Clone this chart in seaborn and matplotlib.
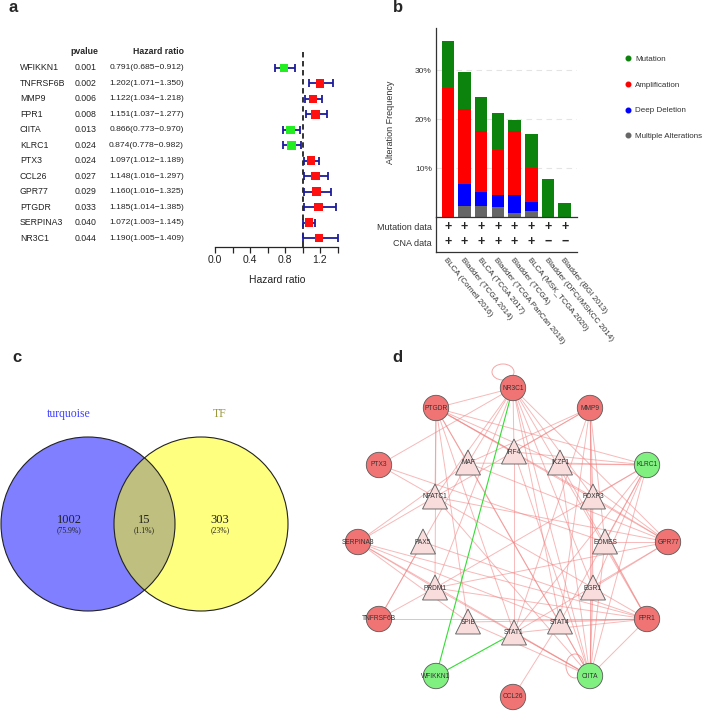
import numpy as np
import matplotlib
matplotlib.use("Agg")
import matplotlib.pyplot as plt
from matplotlib.patches import Circle, Polygon, Ellipse
from matplotlib.lines import Line2D
import pandas as pd
import seaborn as sns

# ---- panel a: univariate cox table ----
genes = ["WFIKKN1", "TNFRSF6B", "MMP9", "FPR1", "CIITA", "KLRC1", "PTX3",
         "CCL26", "GPR77", "PTGDR", "SERPINA3", "NR3C1"]
pvals = ["0.001", "0.002", "0.006", "0.008", "0.013", "0.024", "0.024",
         "0.027", "0.029", "0.033", "0.040", "0.044"]
hr = [0.791, 1.202, 1.122, 1.151, 0.866, 0.874, 1.097, 1.148, 1.160, 1.185, 1.072, 1.190]
hr_lo = [0.685, 1.071, 1.034, 1.037, 0.773, 0.778, 1.012, 1.016, 1.016, 1.014, 1.003, 1.005]
hr_hi = [0.912, 1.350, 1.218, 1.277, 0.970, 0.982, 1.189, 1.297, 1.325, 1.385, 1.145, 1.409]

# ---- panel b: cBioPortal alteration frequency (%) ----
studies = ["BLCA (Cornell 2016)", "Bladder (TCGA 2014)", "BLCA (TCGA 2017)",
           "Bladder (TCGA PanCan 2018)", "Bladder (TCGA)", "BLCA (MSK_TCGA 2020)",
           "Bladder (DFCI/MSKCC 2014)", "Bladder (BGI 2013)"]
mutation = [9.7, 7.7, 7.0, 7.5, 2.2, 6.8, 7.8, 2.9]
amplification = [26.3, 15.3, 12.4, 9.2, 13.1, 7.0, 0, 0]
deep_deletion = [0, 4.5, 2.9, 2.5, 3.6, 1.9, 0, 0]
multiple = [0, 2.2, 2.3, 2.0, 0.9, 1.2, 0, 0]
has_mut = [True] * 8
has_cna = [True] * 6 + [False] * 2

# ---- panel c: venn counts ----
venn_sets = ["turquoise", "TF"]
venn_counts = [1002, 15, 303]  # only left, both, only right

# ---- panel d: TF - gene network ----
red_genes = ["NR3C1", "PTGDR", "MMP9", "PTX3", "SERPINA3", "GPR77",
             "TNFRSF6B", "FPR1", "CCL26"]
green_genes = ["KLRC1", "WFIKKN1", "CIITA"]
tfs = ["IRF4", "MAF", "IKZF1", "NFATC1", "FOXP3", "PAX5", "EOMES",
       "PRDM1", "EGR1", "SPIB", "STAT4", "STAT1"]
pink_edges = [
    ("NR3C1", "PTGDR"), ("NR3C1", "PTX3"), ("NR3C1", "MAF"), ("NR3C1", "IRF4"),
    ("NR3C1", "NFATC1"), ("NR3C1", "PRDM1"), ("NR3C1", "STAT4"), ("NR3C1", "FPR1"),
    ("NR3C1", "CIITA"), ("NR3C1", "FOXP3"), ("NR3C1", "GPR77"), ("NR3C1", "EGR1"),
    ("PTGDR", "NFATC1"), ("PTGDR", "PRDM1"), ("PTGDR", "MAF"), ("PTGDR", "IRF4"),
    ("PTGDR", "IKZF1"), ("PTGDR", "KLRC1"), ("PTGDR", "FOXP3"), ("PTGDR", "GPR77"),
    ("PTGDR", "SPIB"), ("PTGDR", "STAT1"), ("PTGDR", "CIITA"),
    ("MMP9", "MAF"), ("MMP9", "IRF4"), ("MMP9", "NFATC1"), ("MMP9", "FOXP3"),
    ("MMP9", "EGR1"), ("MMP9", "STAT4"), ("MMP9", "STAT1"), ("MMP9", "CIITA"),
    ("MMP9", "EOMES"), ("PTX3", "NFATC1"), ("PTX3", "EOMES"),
    ("KLRC1", "IKZF1"), ("KLRC1", "IRF4"), ("KLRC1", "MAF"), ("KLRC1", "FOXP3"),
    ("KLRC1", "EOMES"), ("KLRC1", "EGR1"), ("KLRC1", "STAT4"), ("KLRC1", "STAT1"),
    ("KLRC1", "CIITA"), ("KLRC1", "PRDM1"),
    ("SERPINA3", "NFATC1"), ("SERPINA3", "MAF"), ("SERPINA3", "PRDM1"),
    ("SERPINA3", "SPIB"), ("SERPINA3", "STAT4"), ("SERPINA3", "FPR1"), ("SERPINA3", "CIITA"),
    ("GPR77", "FOXP3"), ("GPR77", "EOMES"), ("GPR77", "EGR1"), ("GPR77", "IKZF1"),
    ("GPR77", "NFATC1"), ("GPR77", "PRDM1"), ("GPR77", "STAT1"), ("GPR77", "MAF"),
    ("TNFRSF6B", "FPR1"), ("TNFRSF6B", "PAX5"), ("TNFRSF6B", "PRDM1"), ("TNFRSF6B", "MAF"),
    ("FPR1", "SPIB"), ("FPR1", "STAT4"), ("FPR1", "STAT1"), ("FPR1", "EOMES"),
    ("FPR1", "IKZF1"), ("FPR1", "PRDM1"), ("FPR1", "CIITA"), ("FPR1", "PAX5"), ("FPR1", "NFATC1"),
    ("CIITA", "EGR1"), ("CIITA", "EOMES"), ("CIITA", "FOXP3"), ("CIITA", "IRF4"),
    ("CIITA", "MAF"), ("CIITA", "PRDM1"), ("CIITA", "SPIB"), ("CIITA", "STAT1"),
    ("CIITA", "IKZF1"), ("CIITA", "NFATC1"),
    ("CCL26", "STAT4"), ("IRF4", "STAT1"),
]
green_edges = [("WFIKKN1", "NR3C1"), ("WFIKKN1", "STAT1")]

# layout of the network (pixel positions in the figure)
node_pos = {
    "NR3C1": (513, 388), "PTGDR": (436, 408), "MMP9": (590, 408), "PTX3": (379, 465),
    "KLRC1": (647, 465), "SERPINA3": (358, 542), "GPR77": (668, 542),
    "TNFRSF6B": (379, 619), "FPR1": (647, 619), "WFIKKN1": (436, 676),
    "CIITA": (590, 676), "CCL26": (513, 697),
    "IRF4": (514, 452), "MAF": (468, 463), "IKZF1": (560, 463), "NFATC1": (435, 497),
    "FOXP3": (593, 497), "PAX5": (423, 542), "EOMES": (605, 542), "PRDM1": (435, 588),
    "EGR1": (593, 588), "SPIB": (468, 622), "STAT4": (560, 622), "STAT1": (514, 633),
}

W, H = 706, 712
sns.set_style("white")
plt.rcParams["font.family"] = ["Liberation Sans", "DejaVu Sans"]

fig = plt.figure(figsize=(W / 100, H / 100), dpi=100)


def box(l, t, r, b):
    return [l / W, 1 - b / H, (r - l) / W, (b - t) / H]


bg = fig.add_axes([0, 0, 1, 1])
bg.set_xlim(0, W)
bg.set_ylim(H, 0)
bg.axis("off")

for lab, (x, y) in zip("abcd", [(13, 8), (398, 8), (17, 357), (397, 357)]):
    bg.text(x, y, lab, fontsize=12, fontweight="bold", ha="center", va="center")

# ---------------- a ----------------
row_y = 67.7 + 15.51 * np.arange(len(genes))
bg.text(84, 52, "pvalue", fontsize=6.3, fontweight="bold", ha="center", va="center")
bg.text(184, 52, "Hazard ratio", fontsize=6.3, fontweight="bold", ha="right", va="center")
for g, p, h, l, u, y in zip(genes, pvals, hr, hr_lo, hr_hi, row_y):
    bg.text(20, y, g, fontsize=6.3, ha="left", va="center", color="#222222")
    bg.text(86, y, p, fontsize=6.3, ha="center", va="center", color="#222222")
    bg.text(184, y, f"{h:.3f}({l:.3f}\u2212{u:.3f})", fontsize=6.1, ha="right",
            va="center", color="#222222")

fa = fig.add_axes(box(215, 50, 215 + 1.42 * 87.5, 247))
fa.set_facecolor("none")
rows = np.arange(len(genes))
hr_a = np.array(hr)
fa.errorbar(hr_a, rows, xerr=[hr_a - np.array(hr_lo), np.array(hr_hi) - hr_a],
            fmt="none", ecolor="#1c1c9c", elinewidth=1.3, capsize=3, capthick=1.3, zorder=2)
risk = ["high" if h > 1 else "low" for h in hr]
sns.scatterplot(x=hr_a, y=rows, hue=risk, palette={"high": "#ff1010", "low": "#22ee22"},
                marker="s", s=38, linewidth=0, legend=False, ax=fa, zorder=3)
fa.axvline(1.0, color="#222222", ls=(0, (3, 2)), lw=1.3, zorder=1)
fa.set_xlim(0, 1.42)
fa.set_ylim(11.58, -1.165)
fa.set_yticks([])
sns.despine(ax=fa, left=True)
fa.spines["bottom"].set_bounds(0, 1.4)
fa.spines["bottom"].set_linewidth(0.9)
fa.set_xticks(np.arange(0, 1.41, 0.2))
fa.set_xticklabels(["0.0", "", "0.4", "", "0.8", "", "1.2", ""], fontsize=7.5, color="#222222")
fa.tick_params(axis="x", direction="out", length=4, width=0.9, pad=2, bottom=True)
fa.set_xlabel("Hazard ratio", fontsize=7.5, labelpad=7, color="#222222")

# ---------------- b ----------------
df = pd.DataFrame({"study": studies, "mut": mutation, "amp": amplification,
                   "deep": deep_deletion, "multi": multiple})
df["c_multi"] = df["multi"]
df["c_deep"] = df["c_multi"] + df["deep"]
df["c_amp"] = df["c_deep"] + df["amp"]
df["c_mut"] = df["c_amp"] + df["mut"]

ba = fig.add_axes(box(436, 28, 577, 217))
layers = [("c_mut", "#0c830c"), ("c_amp", "#ff0000"), ("c_deep", "#0000ff"), ("c_multi", "#666666")]
for col, colr in layers:
    sns.barplot(data=df, x="study", y=col, color=colr, saturation=1, width=0.75,
                ax=ba, zorder=2, linewidth=0)
ba.set_xlim(-0.71, 7.74)
ba.set_ylim(0, 38.6)
ba.set_yticks([10, 20, 30])
ba.set_yticklabels(["10%", "20%", "30%"], fontsize=6, color="#333333")
ba.tick_params(axis="y", length=0, pad=3)
ba.set_xticks([])
ba.set_xlabel("")
ba.set_ylabel("Alteration Frequency", fontsize=6.5, color="#333333")
ba.yaxis.set_label_coords((395 - 436) / 141, 0.5)
ba.grid(axis="y", ls=(0, (5, 4)), color="#e4e4e4", lw=0.8)
ba.set_axisbelow(True)
sns.despine(ax=ba)
for s in ("left", "bottom"):
    ba.spines[s].set_linewidth(0.9)
    ba.spines[s].set_color("#333333")

handles = [Line2D([], [], ls="", marker="o", ms=3.3, color=c)
           for c in ["#0c830c", "#ff0000", "#0000ff", "#666666"]]
fig.legend(handles, ["Mutation", "Amplification", "Deep Deletion", "Multiple Alterations"],
           loc="upper left", bbox_to_anchor=(621 / W, 1 - 52 / H), frameon=False,
           fontsize=5.8, labelspacing=2.25, handletextpad=0.35, handlelength=1.0,
           labelcolor="#333333", borderaxespad=0)

tb = fig.add_axes(box(436, 217, 577, 252))
tb.set_facecolor("none")
tb.set_xlim(-0.71, 7.74)
tb.set_ylim(1.75, 0)
for i in range(len(studies)):
    tb.text(i, 0.5, "+" if has_mut[i] else "\u2212", ha="center", va="center",
            fontsize=9, fontweight="bold")
    tb.text(i, 1.25, "+" if has_cna[i] else "\u2212", ha="center", va="center",
            fontsize=9, fontweight="bold")
tb.set_yticks([0.5, 1.25])
tb.set_yticklabels(["Mutation data", "CNA data"], fontsize=6.5, color="#333333")
tb.set_xticks(range(len(studies)))
tb.set_xticklabels(studies, rotation=-51, ha="left", va="top", rotation_mode="anchor",
                   fontsize=5.8, color="#333333")
tb.tick_params(length=0, pad=3)
tb.tick_params(axis="x", pad=3)
sns.despine(ax=tb)
for s in ("left", "bottom"):
    tb.spines[s].set_linewidth(0.9)
    tb.spines[s].set_color("#333333")

# ---------------- c ----------------
total = sum(venn_counts)
bg.add_patch(Circle((88, 524), 87, fc=(0, 0, 1, 0.5), ec="none"))
bg.add_patch(Circle((201, 524), 87, fc=(1, 1, 0, 0.5), ec="none"))
for cx in (88, 201):
    bg.add_patch(Circle((cx, 524), 87, fc="none", ec="#222222", lw=0.8))
serif = ["Liberation Serif", "DejaVu Serif"]
bg.text(69, 414, venn_sets[0], fontsize=8.5, color="#4040ff", ha="center", va="center", family=serif)
bg.text(220, 414, venn_sets[1], fontsize=8.5, color="#99993a", ha="center", va="center", family=serif)
for cx, n in zip((69, 144, 220), venn_counts):
    pct = "{:g}".format(round(100 * n / total, 1))
    bg.text(cx, 520, str(n), fontsize=9, ha="center", va="center", family=serif, color="#222222")
    bg.text(cx, 530, f"({pct}%)", fontsize=5.5, ha="center", va="center", family=serif, color="#222222")

# ---------------- d ----------------
for a, b in pink_edges:
    (x0, y0), (x1, y1) = node_pos[a], node_pos[b]
    bg.plot([x0, x1], [y0, y1], color="#f08080", alpha=0.55, lw=0.7, zorder=1)
for a, b in green_edges:
    (x0, y0), (x1, y1) = node_pos[a], node_pos[b]
    bg.plot([x0, x1], [y0, y1], color="#33dd33", lw=0.8, zorder=1.5)
bg.add_patch(Ellipse((503, 372), 22, 16, fc="none", ec="#f08080", alpha=0.7, lw=0.7, zorder=1))
bg.add_patch(Ellipse((575, 666), 18, 24, fc="none", ec="#f08080", alpha=0.7, lw=0.7, zorder=1))

for n in red_genes + green_genes:
    x, y = node_pos[n]
    fc = "#f07474" if n in red_genes else "#80f080"
    bg.add_patch(Circle((x, y), 12.7, fc=fc, ec="#5a5a5a", lw=0.6, zorder=3))
    bg.text(x, y, n, fontsize=4.8, ha="center", va="center", color="#333333", zorder=4)
for n in tfs:
    x, y = node_pos[n]
    tri = [(x - 12.5, y + 12), (x + 12.5, y + 12), (x, y - 13)]
    bg.add_patch(Polygon(tri, closed=True, fc="#f9dcdc", ec="#5a5a5a", lw=0.6, zorder=3))
    bg.text(x, y, n, fontsize=4.8, ha="center", va="center", color="#333333", zorder=4)

fig.savefig("out.png", dpi=100)
